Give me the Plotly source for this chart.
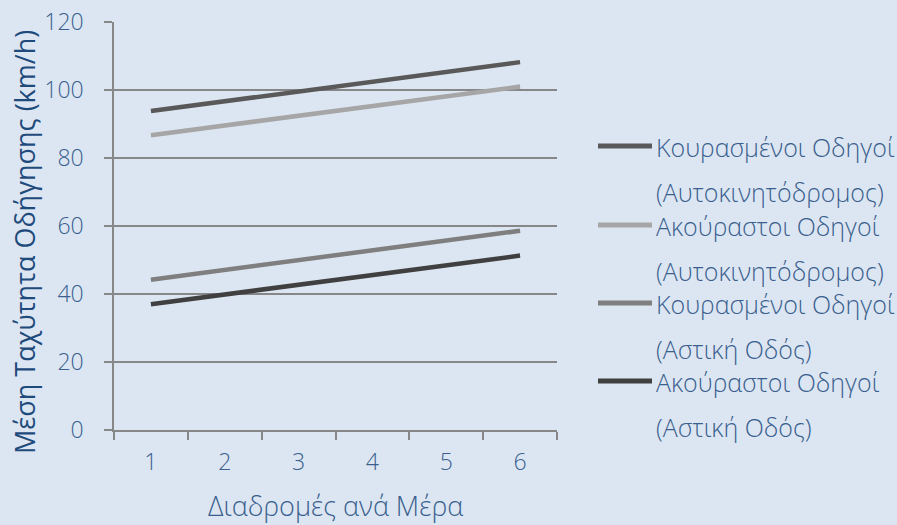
import plotly.graph_objects as go

# Data
trips_per_day = ["1", "2", "3", "4", "5", "6"]
series_names = [
    ("Κουρασμένοι Οδηγοί", "(Αυτοκινητόδρομος)"),
    ("Ακούραστοι Οδηγοί", "(Αυτοκινητόδρομος)"),
    ("Κουρασμένοι Οδηγοί", "(Αστική Οδός)"),
    ("Ακούραστοι Οδηγοί", "(Αστική Οδός)"),
]
tired_highway = [93.8, 96.7, 99.6, 102.5, 105.4, 108.2]
rested_highway = [86.7, 89.6, 92.4, 95.3, 98.2, 101.0]
tired_urban = [44.2, 47.1, 49.9, 52.8, 55.7, 58.6]
rested_urban = [37.0, 39.9, 42.7, 45.6, 48.4, 51.3]
y_ticks = [0, 20, 40, 60, 80, 100, 120]

series_values = [tired_highway, rested_highway, tired_urban, rested_urban]
colors = ["#595959", "#A6A6A6", "#7F7F7F", "#404040"]

W, H = 897, 525
L, R, T, B = 114, 557, 22, 430  # plot area in pixels

FONT = "Open Sans"
TICK_COLOR = "#3A5F8E"
TITLE_COLOR = "#1F4A7C"
AXIS_GREY = "#878787"
BG = "#DCE6F2"


def px_x(x):
    return (x - L) / (R - L)


def px_y(y):
    return (B - y) / (B - T)


fig = go.Figure()
for (n1, n2), vals, col in zip(series_names, series_values, colors):
    fig.add_trace(go.Scatter(
        x=trips_per_day, y=vals, mode="lines",
        name=f"{n1} {n2}",
        line=dict(color=col, width=4.5),
        showlegend=False,
    ))

# Legend drawn as key lines plus two-line labels
key_y = [146, 225, 303, 381]
for (n1, n2), col, ky in zip(series_names, colors, key_y):
    fig.add_shape(type="line", xref="paper", yref="paper",
                  x0=px_x(598), x1=px_x(652), y0=px_y(ky), y1=px_y(ky),
                  line=dict(color=col, width=5))
    fig.add_annotation(text=n1, xref="paper", yref="paper",
                       x=px_x(654), y=px_y(ky + 1), xanchor="left", yanchor="middle",
                       showarrow=False, font=dict(family=FONT, size=25, color=TICK_COLOR, weight=300))
    fig.add_annotation(text=n2, xref="paper", yref="paper",
                       x=px_x(654), y=px_y(ky + 46), xanchor="left", yanchor="middle",
                       showarrow=False, font=dict(family=FONT, size=25, color=TICK_COLOR, weight=300))

# Axis titles
fig.add_annotation(text="Μέση Ταχύτητα Οδήγησης (km/h)", xref="paper", yref="paper",
                   x=px_x(24), y=px_y(242), textangle=-90, showarrow=False,
                   xanchor="center", yanchor="middle",
                   font=dict(family=FONT, size=27, color=TITLE_COLOR))
fig.add_annotation(text="Διαδρομές ανά Μέρα", xref="paper", yref="paper",
                   x=px_x(335), y=px_y(505), showarrow=False,
                   xanchor="center", yanchor="middle",
                   font=dict(family=FONT, size=27, color=TICK_COLOR, weight=300))

fig.update_layout(
    width=W, height=H,
    margin=dict(l=L, r=W - R, t=T, b=H - B, pad=0, autoexpand=False),
    paper_bgcolor=BG, plot_bgcolor=BG,
    showlegend=False,
)
fig.update_xaxes(
    type="category", range=[-0.5, 5.5], tickson="boundaries",
    automargin=False,
    showgrid=False, showline=True, linecolor=AXIS_GREY, linewidth=1.5,
    ticks="outside", ticklen=8, tickwidth=1.5, tickcolor=AXIS_GREY,
    ticklabelstandoff=11,
    tickfont=dict(family=FONT, size=23, color=TICK_COLOR, weight=300),
    zeroline=False,
)
fig.update_yaxes(
    range=[0, 120], tickvals=y_ticks,
    automargin=False,
    showgrid=True, gridcolor=AXIS_GREY, gridwidth=1.5,
    showline=True, linecolor=AXIS_GREY, linewidth=1.5,
    ticks="outside", ticklen=8, tickwidth=1.5, tickcolor=AXIS_GREY,
    ticklabelstandoff=16,
    tickfont=dict(family=FONT, size=23, color=TICK_COLOR, weight=300),
    zeroline=False,
)

fig.write_html("out.html")
